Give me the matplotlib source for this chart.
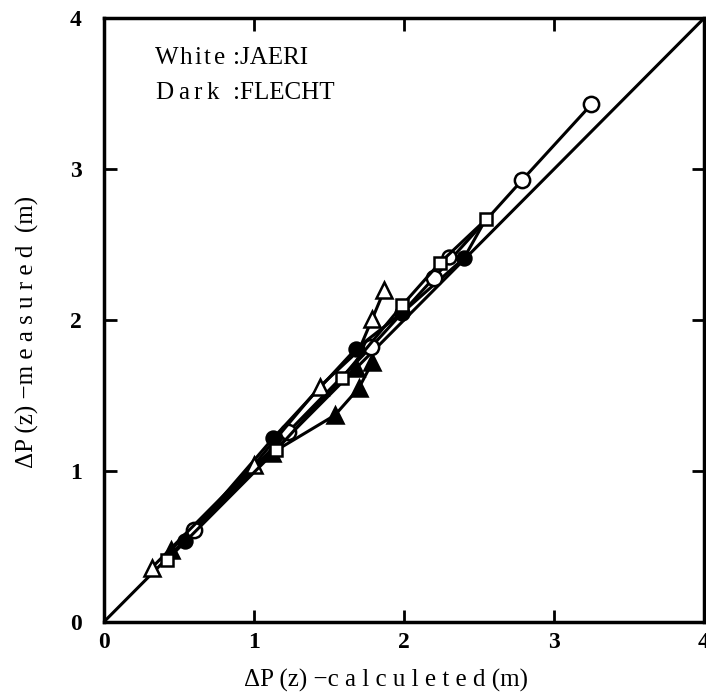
import matplotlib.pyplot as plt

# JAERI (open marks)
jaeri_circle_x = [0.60, 1.23, 1.78, 2.20, 2.79, 3.25]
jaeri_circle_y = [0.61, 1.26, 1.82, 2.28, 2.93, 3.43]
jaeri_circle2_x = [2.30]
jaeri_circle2_y = [2.42]
jaeri_square_x = [0.42, 1.15, 1.59, 1.99, 2.24, 2.55]
jaeri_square_y = [0.41, 1.14, 1.62, 2.10, 2.38, 2.67]
jaeri_tri_x = [0.32, 1.00, 1.44, 1.70, 1.79, 1.87]
jaeri_tri_y = [0.36, 1.04, 1.56, 1.80, 2.01, 2.20]

# FLECHT (dark marks)
flecht_circle_x = [0.54, 1.13, 1.68, 1.99, 2.40, 2.53]
flecht_circle_y = [0.54, 1.22, 1.81, 2.05, 2.41, 2.64]
flecht_tri_x = [0.45, 1.12, 1.54, 1.70, 1.79]
flecht_tri_y = [0.48, 1.12, 1.37, 1.55, 1.72]
flecht_tri2_x = [1.68]
flecht_tri2_y = [1.68]

# line of perfect agreement
diag = [0, 4]

ticks = [0, 1, 2, 3, 4]

plt.rcParams['font.family'] = ['Liberation Serif', 'DejaVu Serif']

fig = plt.figure(figsize=(7.06, 6.97), dpi=100)
ax = fig.add_axes([0.147, 0.1076, 0.85, 0.866])

lw = 2.2
ax.plot(diag, diag, color='black', lw=lw, zorder=2)

open_kw = dict(color='black', lw=lw, mfc='white', mec='black', mew=1.8)
dark_kw = dict(color='black', lw=lw, mfc='black', mec='black', mew=1.8)

ax.plot(jaeri_circle_x, jaeri_circle_y, marker='o', ms=11, zorder=4, **open_kw)
ax.plot(jaeri_circle2_x, jaeri_circle2_y, marker='o', ms=10, ls='none', zorder=4, **open_kw)
ax.plot(jaeri_square_x, jaeri_square_y, marker='s', ms=9, zorder=5, **open_kw)
ax.plot(jaeri_tri_x, jaeri_tri_y, marker='^', ms=12, markevery=[0, 1, 2, 4, 5], zorder=4, **open_kw)
ax.plot(flecht_circle_x, flecht_circle_y, marker='o', ms=10, markevery=[0, 1, 2, 3, 4], zorder=3, **dark_kw)
ax.plot(flecht_tri_x, flecht_tri_y, marker='^', ms=11, zorder=3, **dark_kw)
ax.plot(flecht_tri2_x, flecht_tri2_y, marker='^', ms=11, ls='none', zorder=3, **dark_kw)

ax.set_xlim(0, 4)
ax.set_ylim(0, 4)
ax.set_xticks(ticks)
ax.set_yticks(ticks)
for s in ax.spines.values():
    s.set_linewidth(2.5)
ax.tick_params(direction='in', length=9, width=2, top=True, right=True,
               labelsize=17)
ax.tick_params(axis='x', pad=7)
ax.tick_params(axis='y', pad=16)
for lab in ax.get_xticklabels() + ax.get_yticklabels():
    lab.set_fontweight('bold')

ax.set_xlabel('ΔP (z) \u2212c a l c u l e t e d (m)', fontsize=18, labelpad=12)
ax.set_ylabel('ΔP (z) \u2212m e a s u r e d  (m)', fontsize=18, labelpad=22)
ax.xaxis.label.set_x(0.47)
ax.yaxis.label.set_y(0.48)

# spaced-out key text, one letter at a time
def spaced(word, x0, y, step):
    x = x0
    for ch in word:
        ax.text(x, y, ch, transform=ax.transAxes, fontsize=18, va='center')
        x += step[ch]

steps = {'W': 0.041, 'h': 0.025, 'i': 0.016, 't': 0.017, 'e': 0.02,
         'D': 0.039, 'a': 0.025, 'r': 0.022, 'k': 0.02}
spaced('White', 0.085, 0.935, steps)
spaced('Dark', 0.085, 0.877, steps)
ax.text(0.215, 0.935, ':JAERI', transform=ax.transAxes, fontsize=18, va='center')
ax.text(0.215, 0.877, ':FLECHT', transform=ax.transAxes, fontsize=18, va='center')

fig.savefig('out.png', dpi=100)
